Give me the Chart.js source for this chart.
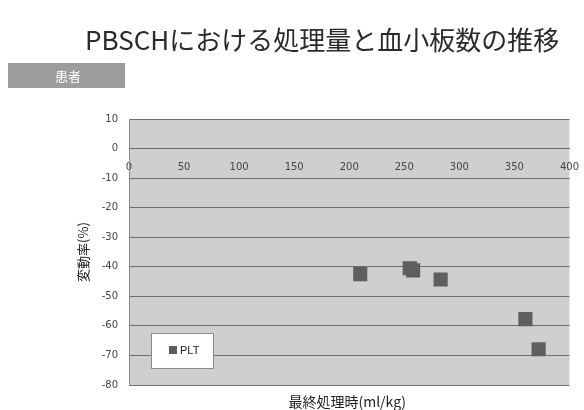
<!DOCTYPE html>
<html>
<head>
<meta charset="utf-8">
<script src="https://cdn.jsdelivr.net/npm/chart.js@4"></script>
<style>
  html, body { margin: 0; padding: 0; background: #fff; }
  #wrap { width: 584px; height: 410px; }
</style>
</head>
<body>
<div id="wrap"><canvas id="chart"></canvas></div>
<script>
// values
const seriesLabel = 'PLT';
const plateletX = [210, 255, 258, 283, 360, 372];
const plateletY = [-42.5, -40.5, -41.2, -44.3, -57.7, -67.9];
const titleText = 'PBSCHにおける処理量と血小板数の推移';
const tagText = '患者';
const xTitle = '最終処理時(ml/kg)';
const yTitle = '変動率(%)';

const jp = '"Noto Sans CJK JP", "Noto Sans", sans-serif';

// background, title, tag box, x title and legend
const decor = {
  id: 'decor',
  beforeDraw(chart) {
    const { ctx, chartArea: a } = chart;
    ctx.save();
    ctx.fillStyle = '#cfcfcf';
    ctx.fillRect(a.left, a.top, a.right - a.left, a.bottom - a.top);
    ctx.restore();
  },
  afterDraw(chart) {
    const { ctx, chartArea: a } = chart;
    ctx.save();
    // main title
    ctx.fillStyle = '#2a2a2a';
    ctx.font = '26px ' + jp;
    ctx.textAlign = 'left';
    ctx.textBaseline = 'middle';
    ctx.fillText(titleText, 85, 40);

    // grey tag box
    ctx.fillStyle = '#9c9c9c';
    ctx.fillRect(8, 63, 117, 25);
    ctx.fillStyle = '#fff';
    ctx.font = '13px ' + jp;
    ctx.textAlign = 'center';
    ctx.fillText(tagText, 68, 76);

    // x axis title
    ctx.fillStyle = '#222';
    ctx.font = '14px ' + jp;
    ctx.fillText(xTitle, (a.left + a.right) / 2 - 2, 402);

    // legend box
    const ds = chart.data.datasets[0];
    ctx.fillStyle = '#fff';
    ctx.fillRect(151, 333, 62, 35);
    ctx.strokeStyle = '#8a8a8a';
    ctx.lineWidth = 1;
    ctx.strokeRect(151.5, 333.5, 62, 35);
    ctx.fillStyle = ds.backgroundColor;
    ctx.fillRect(169, 346, 8, 8);
    ctx.fillStyle = '#222';
    ctx.font = '11px "Liberation Sans", sans-serif';
    ctx.textAlign = 'left';
    ctx.fillText(ds.label, 180, 351);
    ctx.restore();
  }
};

new Chart(document.getElementById('chart'), {
  type: 'scatter',
  data: {
    datasets: [{
      label: seriesLabel,
      data: plateletX.map((x, i) => ({ x: x, y: plateletY[i] })),
      backgroundColor: '#5e5e5e',
      borderColor: '#5e5e5e',
      borderWidth: 0,
      pointStyle: 'rect',
      pointRadius: 10,
      pointHoverRadius: 10
    }]
  },
  options: {
    responsive: true,
    maintainAspectRatio: false,
    animation: false,
    layout: { padding: { top: 119, left: 70, right: 10, bottom: 25 } },
    plugins: {
      legend: { display: false },
      tooltip: { enabled: false }
    },
    scales: {
      x: {
        type: 'linear',
        position: { y: 0 },
        min: 0,
        max: 400,
        ticks: {
          stepSize: 50,
          color: '#444',
          padding: 5,
          maxRotation: 0,
          font: { family: 'DejaVu Sans', size: 10 }
        },
        grid: { display: false },
        border: { color: '#6a6a6a', width: 1 }
      },
      y: {
        min: -80,
        max: 10,
        afterFit(scale) { scale.width = 59; },
        ticks: {
          stepSize: 10,
          color: '#444',
          padding: 11,
          font: { family: 'DejaVu Sans', size: 10 }
        },
        grid: { color: '#6e6e6e', lineWidth: 1, drawTicks: false },
        border: { color: '#8a8a8a', width: 1 },
        title: {
          display: true,
          text: yTitle,
          color: '#222',
          font: { family: jp, size: 13 },
          padding: { top: 5, bottom: 0 }
        }
      }
    }
  },
  plugins: [decor]
});
</script>
</body>
</html>
